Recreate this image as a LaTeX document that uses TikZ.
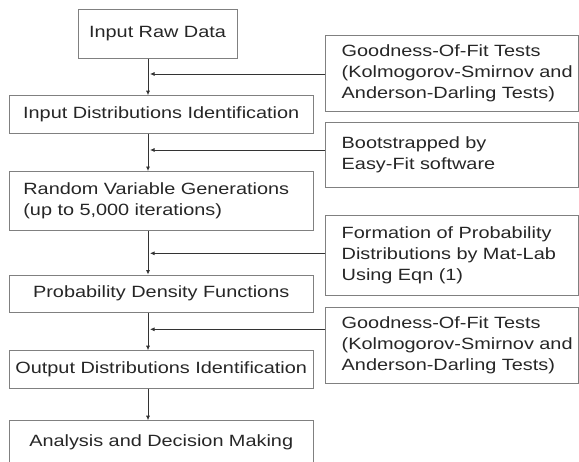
\documentclass[tikz,border=0pt]{standalone}
\usepackage{fontspec}
\setmainfont{Liberation Sans}[FakeStretch=1.22]
\usetikzlibrary{arrows.meta}

\begin{document}
\begin{tikzpicture}[x=1pt,y=-1pt,>={Latex[length=4.5pt,width=4pt]},
   font=\fontsize{16.3}{21}\selectfont,
   mainbox/.style={draw=black!50,line width=0.9pt,text=black!85,inner xsep=0pt,inner ysep=0pt,
      text width=303.7pt,align=center},
   sidebox/.style={draw=black!50,line width=0.9pt,text=black!85,inner xsep=0pt,inner ysep=0pt,
      text width=252.3pt,align=left,execute at begin node={\leftskip=16pt}},
   flow/.style={draw=black!80,line width=0.8pt}]
   \useasboundingbox (0,0) rectangle (579,462);
   \clip (0,0) rectangle (579,462);
   \node[mainbox,text width=159pt,minimum height=49pt] (raw) at (157.5,33.8) {Input Raw Data};
   \node[mainbox,minimum height=37.6pt] (idf) at (161.2,114.5) {Input Distributions Identification};
   \node[mainbox,minimum height=59.2pt,align=left,execute at begin node={\leftskip=14pt}] (rvg) at (161.2,201.1)
      {Random Variable Generations\\(up to 5,000 iterations)};
   \node[mainbox,minimum height=37.5pt] (pdf) at (161.2,293.75) {Probability Density Functions};
   \node[mainbox,minimum height=37.6pt] (odf) at (161.2,369.5) {Output Distributions Identification};
   \node[mainbox,minimum height=44pt] (ana) at (161.2,442.7) {Analysis and Decision Making};
   \node[sidebox,minimum height=76pt] (gof1) at (451.85,73) {Goodness-Of-Fit Tests\\(Kolmogorov-Smirnov and\\Anderson-Darling Tests)};
   \node[sidebox,minimum height=65pt] (boot) at (451.85,155.2) {Bootstrapped by\\Easy-Fit software};
   \node[sidebox,minimum height=79.3pt] (form) at (451.85,255.35) {Formation of Probability\\Distributions by Mat-Lab\\Using Eqn (1)};
   \node[sidebox,minimum height=76pt] (gof2) at (451.85,345.3) {Goodness-Of-Fit Tests\\(Kolmogorov-Smirnov and\\Anderson-Darling Tests)};
   \coordinate (spine) at (148,0);
   \coordinate (tap1) at (150,74);
   \coordinate (tap2) at (150,150);
   \coordinate (tap3) at (150,253.3);
   \coordinate (tap4) at (150,329.3);
    \path[->]
    (raw.south -| spine) edge[flow] (idf.north -| spine)
    (idf.south -| spine) edge[flow] (rvg.north -| spine)
    (rvg.south -| spine) edge[flow] (pdf.north -| spine)
    (pdf.south -| spine) edge[flow] (odf.north -| spine)
    (odf.south -| spine) edge[flow] (ana.north -| spine)
    (tap1 -| gof1.west) edge[flow] (tap1)
    (tap2 -| boot.west) edge[flow] (tap2)
    (tap3 -| form.west) edge[flow] (tap3)
    (tap4 -| gof2.west) edge[flow] (tap4);
\end{tikzpicture}
\end{document}
